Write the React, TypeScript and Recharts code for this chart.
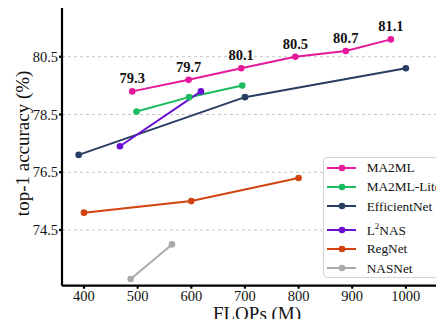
import React from "react";
import {
  LineChart,
  Line,
  XAxis,
  YAxis,
  CartesianGrid,
  ReferenceLine,
  LabelList,
} from "recharts";

const flopsTicks = [400, 500, 600, 700, 800, 900, 1000];
const accTicks = [74.5, 76.5, 78.5, 80.5];

const ma2mlFlops = [490, 595, 693, 794, 888, 972];
const ma2mlAcc = [79.3, 79.7, 80.1, 80.5, 80.7, 81.1];
const liteFlops = [498, 596, 695];
const liteAcc = [78.6, 79.1, 79.5];
const effFlops = [390, 700, 1000];
const effAcc = [77.1, 79.1, 80.1];
const l2nasFlops = [467, 618];
const l2nasAcc = [77.4, 79.3];
const regFlops = [400, 600, 800];
const regAcc = [75.1, 75.5, 76.3];
const nasFlops = [487, 564];
const nasAcc = [72.8, 74.0];

const zip = (f: number[], a: number[]) => f.map((x, i) => ({ flops: x, acc: a[i] }));

const series = [
  { key: "MA2ML", data: zip(ma2mlFlops, ma2mlAcc), color: "#e4199b" },
  { key: "MA2ML-Lite", data: zip(liteFlops, liteAcc), color: "#1dbb5f" },
  { key: "EfficientNet", data: zip(effFlops, effAcc), color: "#283d63" },
  { key: "L2NAS", data: zip(l2nasFlops, l2nasAcc), color: "#6a0fd2" },
  { key: "RegNet", data: zip(regFlops, regAcc), color: "#d2430f" },
  { key: "NASNet", data: zip(nasFlops, nasAcc), color: "#aaaaaa" },
];

const X_MIN = 359;
const X_MAX = 1086;
const Y_MIN = 72.57;
const Y_MAX = 82.43;

const FONT = '"Liberation Serif", "Times New Roman", Times, serif';

const css = `
.chart-wrap, .chart-wrap * { font-family: ${FONT} !important; }
`;

const legendName = (k: string) =>
  k === "L2NAS" ? (
    <span>
      L<sup style={{ fontSize: 9, verticalAlign: 6 }}>2</sup>NAS
    </span>
  ) : (
    k
  );

export default function App() {
  return (
    <div
      className="chart-wrap"
      style={{
        margin: -8,
        width: 444,
        height: 327,
        overflow: "hidden",
        position: "relative",
        background: "#fff",
      }}
    >
      <style>{css}</style>
      <LineChart
        width={452}
        height={327}
        margin={{ top: 1, right: 0, left: 0, bottom: 0 }}
      >
        <CartesianGrid vertical={false} stroke="#c4c4c4" strokeDasharray="3 3" />
        <XAxis
          dataKey="flops"
          type="number"
          domain={[X_MIN, X_MAX]}
          ticks={flopsTicks}
          allowDataOverflow
          height={41.3}
          stroke="#000"
          strokeWidth={2.2}
          tickSize={3}
          tickMargin={2}
          tick={{ fill: "#111", fontSize: 14.5 }}
          label={{
            content: (p: any) => {
              const vb = p.viewBox || { x: 62, y: 285.7, width: 390, height: 41.3 };
              return (
                <text x={vb.x + vb.width / 2} y={319.5} textAnchor="middle" fontSize={19} fill="#111">
                  FLOPs (M)
                </text>
              );
            },
          }}
        />
        <YAxis
          dataKey="acc"
          type="number"
          domain={[Y_MIN, Y_MAX]}
          ticks={accTicks}
          allowDataOverflow
          width={62}
          stroke="#000"
          strokeWidth={2.2}
          tickSize={3}
          tickMargin={1}
          tick={{ fill: "#111", fontSize: 14.5 }}
          label={{
            content: (p: any) => {
              const vb = p.viewBox || { x: 0, y: 1, width: 62, height: 285 };
              const cx = 23;
              const cy = vb.y + vb.height / 2;
              return (
                <text
                  x={cx}
                  y={cy}
                  transform={`rotate(-90, ${cx}, ${cy})`}
                  textAnchor="middle"
                  dominantBaseline="central"
                  fontSize={19}
                  fill="#111"
                >
                  top-1 accuracy (%)
                </text>
              );
            },
          }}
        />
        <ReferenceLine y={Y_MAX} stroke="#000" strokeWidth={2.5} ifOverflow="visible" />
        {series.map((s) => (
          <Line
            key={s.key}
            data={s.data}
            dataKey="acc"
            name={s.key}
            stroke={s.color}
            strokeWidth={2}
            dot={{ r: 3.3, fill: s.color, stroke: s.color, strokeWidth: 0 }}
            activeDot={false}
            isAnimationActive={false}
          >
            {s.key === "MA2ML" && (
              <LabelList dataKey="acc" position="top" offset={8} fill="#111" fontSize={14.5} fontWeight="bold" />
            )}
          </Line>
        ))}
      </LineChart>
      <div
        style={{
          position: "absolute",
          left: 322.7,
          top: 156.7,
          width: 126,
          height: 121,
          boxSizing: "border-box",
          border: "1px solid #d4d4d4",
          borderRadius: 4,
          background: "#fff",
          paddingTop: 0.5,
        }}
      >
        {series.map((s) => (
          <div
            key={s.key}
            style={{
              display: "flex",
              alignItems: "center",
              height: 19.3,
              marginTop: s.key === "L2NAS" ? 4 : 0,
              fontSize: 13.3,
              color: "#111",
              lineHeight: 1,
            }}
          >
            <svg width={43} height={10} style={{ flex: "none" }}>
              <line x1={3} x2={32} y1={5} y2={5} stroke={s.color} strokeWidth={2} />
              <circle cx={18} cy={5} r={3.3} fill={s.color} />
            </svg>
            <span style={{ whiteSpace: "nowrap" }}>{legendName(s.key)}</span>
          </div>
        ))}
      </div>
    </div>
  );
}
